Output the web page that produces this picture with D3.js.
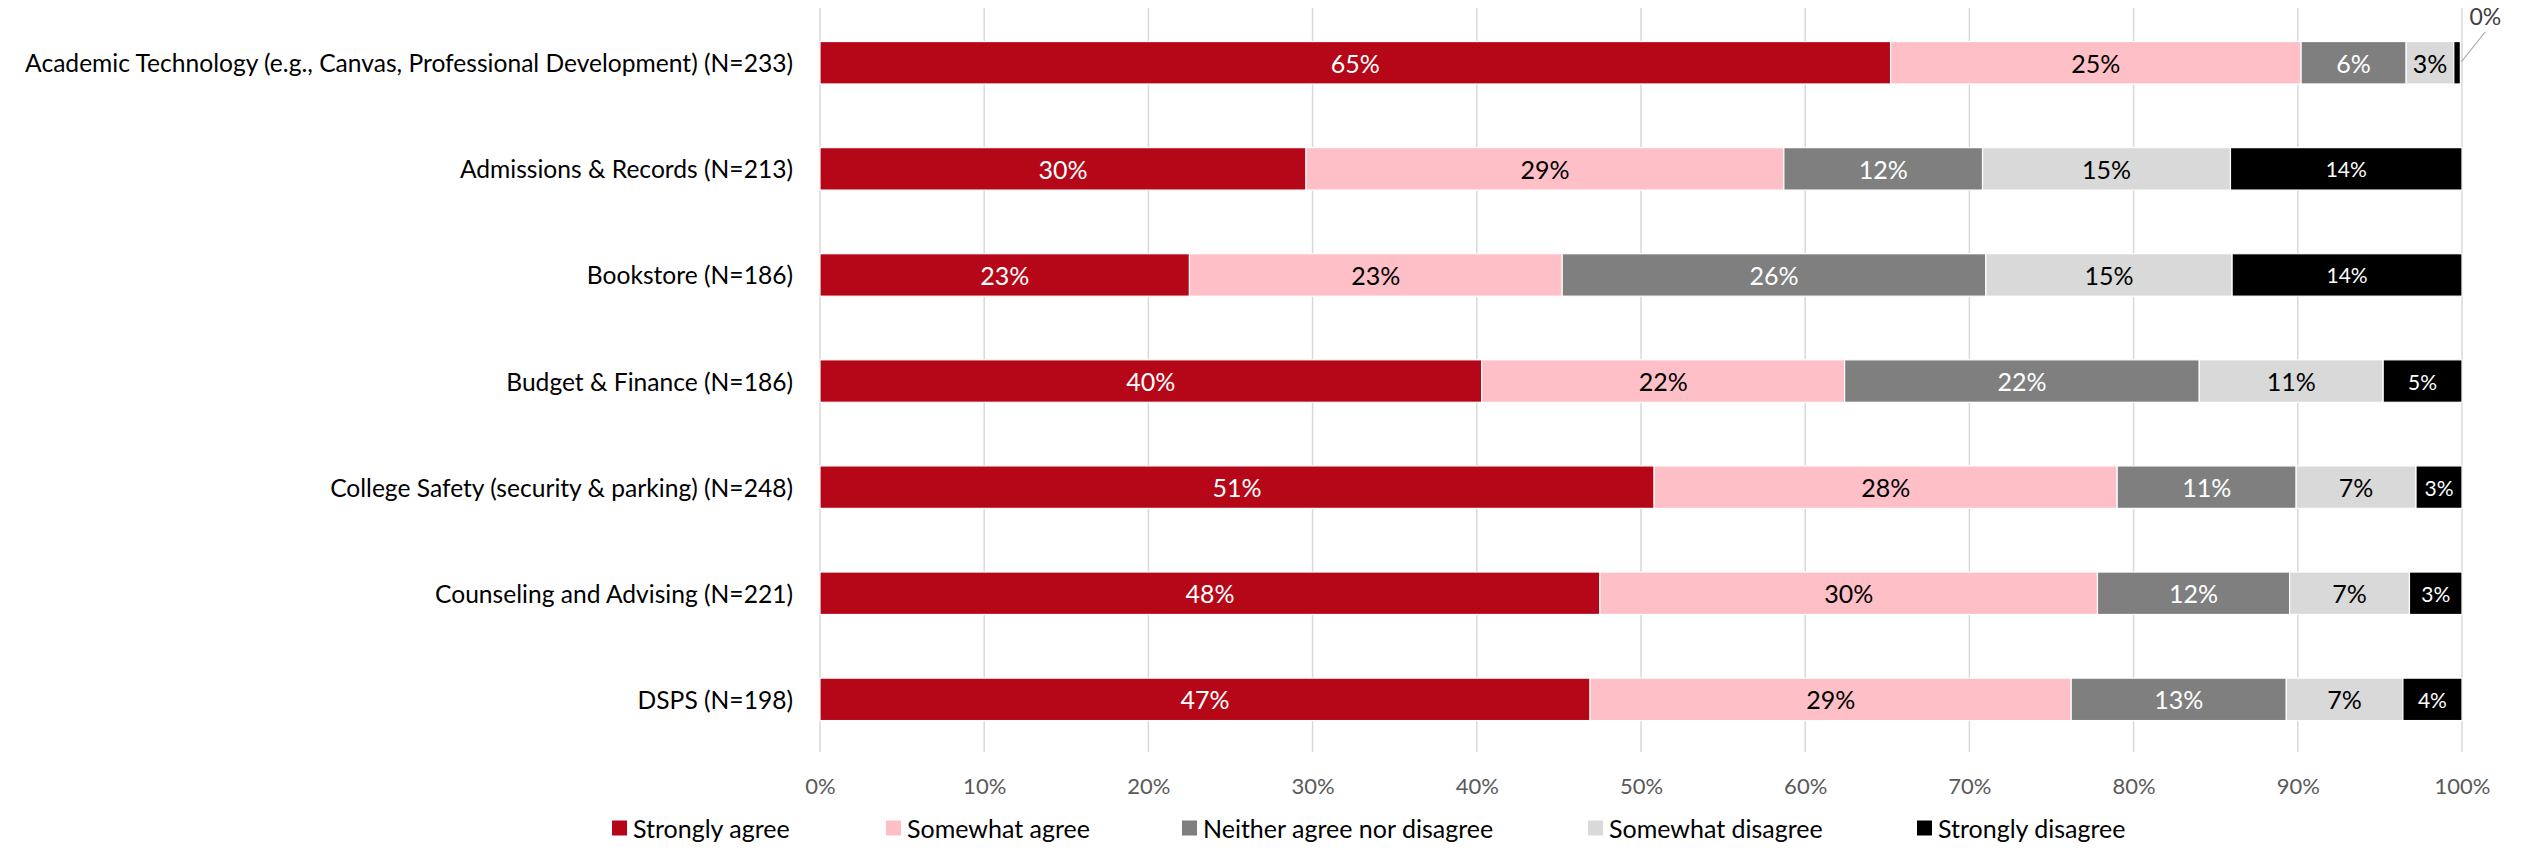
<!DOCTYPE html>
<html>
<head>
<meta charset="utf-8">
<script src="https://cdn.jsdelivr.net/npm/d3@7"></script>
<style>
  html, body { margin: 0; padding: 0; background: #fff; }
  svg { display: block; }
  text { font-family: Lato, "Open Sans", sans-serif; }
</style>
</head>
<body>
<svg id="chart" width="2521" height="851"></svg>
<script>
// ---- data ----
const categories = [
  "Academic Technology (e.g., Canvas, Professional Development) (N=233)",
  "Admissions & Records (N=213)",
  "Bookstore (N=186)",
  "Budget & Finance (N=186)",
  "College Safety (security & parking) (N=248)",
  "Counseling and Advising (N=221)",
  "DSPS (N=198)"
];
const seriesNames = ["Strongly agree", "Somewhat agree", "Neither agree nor disagree", "Somewhat disagree", "Strongly disagree"];
const stronglyAgree    = [65.2, 29.6, 22.5, 40.3, 50.8, 47.5, 46.9];
const somewhatAgree    = [25.0, 29.1, 22.7, 22.1, 28.2, 30.3, 29.3];
const neither          = [6.4, 12.1, 25.8, 21.6, 10.9, 11.7, 13.1];
const somewhatDisagree = [2.9, 15.1, 15.0, 11.2, 7.3, 7.3, 7.1];
const stronglyDisagree = [0.4, 14.1, 14.0, 4.8, 2.8, 3.2, 3.6];
const tickValues = [0, 10, 20, 30, 40, 50, 60, 70, 80, 90, 100];

// ---- styles ----
const colors = ["#B50717", "#FFBFC7", "#7F7F7F", "#D9D9D9", "#000000"];
const labelColors = ["#FFFFFF", "#000000", "#FFFFFF", "#000000", "#FFFFFF"];
const labelSizes = [25, 25, 25, 25, 21];
const legendX = [612, 886, 1182, 1588, 1917];

const seriesValues = [stronglyAgree, somewhatAgree, neither, somewhatDisagree, stronglyDisagree];
const rows = categories.map((c, i) => {
  const r = { category: c };
  seriesNames.forEach((s, j) => r[s] = seriesValues[j][i]);
  return r;
});
const stack = d3.stack().keys(seriesNames)(rows);

const svg = d3.select("#chart");
const x = d3.scaleLinear().domain([0, 100]).range([820, 2462]);
const y = d3.scaleBand().domain(categories).range([9.7, 752.4]).paddingInner(0.6).paddingOuter(0.3);

// gridlines
svg.append("g").selectAll("line").data(tickValues).join("line")
  .attr("x1", d => x(d)).attr("x2", d => x(d))
  .attr("y1", 8).attr("y2", 752)
  .attr("stroke", "#D9D9D9").attr("stroke-width", 1.5);

// x axis labels
const xAxis = svg.append("g").attr("transform", "translate(0,752)")
  .call(d3.axisBottom(x).tickValues(tickValues).tickSize(0).tickPadding(26).tickFormat(d => d + "%"));
xAxis.select(".domain").remove();
xAxis.selectAll("text").attr("font-size", 22).attr("fill", "#595959")
  .style("font-family", "Lato, 'Open Sans', sans-serif");

// category labels
svg.append("g").selectAll("text").data(categories).join("text")
  .attr("x", 793).attr("y", d => y(d) + y.bandwidth() / 2)
  .attr("text-anchor", "end").attr("dominant-baseline", "central")
  .attr("font-size", 24.6).attr("fill", "#000")
  .text(d => d);

// bars
const layers = svg.append("g").selectAll("g").data(stack).join("g")
  .attr("fill", (d, i) => colors[i]);
layers.selectAll("rect").data(d => d).join("rect")
  .attr("x", d => x(d[0])).attr("width", d => x(d[1]) - x(d[0]))
  .attr("y", d => y(d.data.category)).attr("height", y.bandwidth())
  .attr("stroke", "#fff").attr("stroke-width", 1.2);

// data labels
stack.forEach((layer, i) => {
  svg.append("g").selectAll("text").data(layer.filter(d => (d[1] - d[0]) >= 1)).join("text")
    .attr("x", d => (x(d[0]) + x(d[1])) / 2)
    .attr("y", d => y(d.data.category) + y.bandwidth() / 2)
    .attr("text-anchor", "middle").attr("dominant-baseline", "central")
    .attr("font-size", labelSizes[i]).attr("fill", labelColors[i])
    .text(d => Math.round(d[1] - d[0]) + "%");
  // tiny segments: callout label above
  layer.filter(d => (d[1] - d[0]) < 1).forEach(d => {
    const cx = x(d[1]);
    const cy = y(d.data.category) + y.bandwidth() / 2;
    svg.append("line").attr("x1", cx + 1).attr("y1", cy - 1).attr("x2", cx + 25).attr("y2", cy - 31)
      .attr("stroke", "#A6A6A6").attr("stroke-width", 1.2);
    svg.append("text").attr("x", cx + 25).attr("y", cy - 47)
      .attr("text-anchor", "middle").attr("dominant-baseline", "central")
      .attr("font-size", 23).attr("fill", "#404040")
      .text(Math.round(d[1] - d[0]) + "%");
  });
});

// legend
const legend = svg.append("g").selectAll("g").data(seriesNames).join("g")
  .attr("transform", (d, i) => `translate(${legendX[i]},828)`);
legend.append("rect").attr("x", 0).attr("y", -7.5).attr("width", 15).attr("height", 15)
  .attr("fill", (d, i) => colors[i]);
legend.append("text").attr("x", 21).attr("y", 0).attr("dominant-baseline", "central")
  .attr("font-size", 25).attr("fill", "#000").text(d => d);
</script>
</body>
</html>
